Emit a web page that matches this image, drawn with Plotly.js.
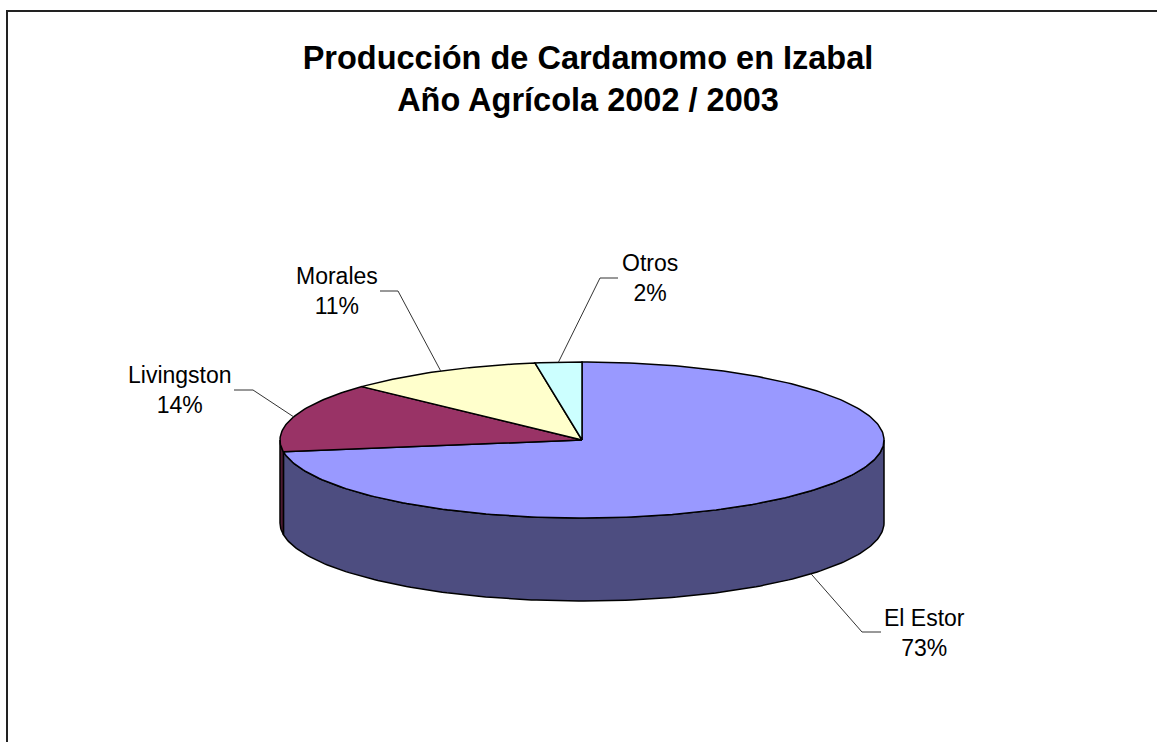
<!DOCTYPE html>
<html>
<head>
<meta charset="utf-8">
<script src="https://cdn.plot.ly/plotly-3.0.1.min.js"></script>
<style>html,body{margin:0;padding:0;background:#fff;overflow:hidden}#chart{width:1157px;height:742px}</style>
</head>
<body>
<div id="chart"></div>
<script>
// Data
const titleLines = ['Producción de Cardamomo en Izabal', 'Año Agrícola 2002 / 2003'];
const categories = ['El Estor', 'Livingston', 'Morales', 'Otros'];
const shares = [72.6, 14.4, 10.51, 2.49];

// Styles
const topColors = ['#9999FF', '#993366', '#FFFFCC', '#CCFFFF'];
const sideColors = ['#4D4D80', '#4D1A33', '#808066', '#668080'];

// Pie projection (pixel-like axis units)
const cx = 582, cy = 440, rx = 302, ry = 78, depth = 83;
const labelX = [924, 180, 337, 650];
const labelY = [633, 390, 291, 278];
const elbowX = [862, 253, 398, 600];
const stubX = [881, 234, 380, 618];
const leaderY = [632, 390, 291, 278];

const rad = a => a * Math.PI / 180;
const px = a => cx + rx * Math.sin(rad(a));
const py = (a, dz) => cy - ry * Math.cos(rad(a)) + (dz || 0);
function arc(a0, a1, dz) {
  const n = Math.max(2, Math.ceil(Math.abs(a1 - a0) / 1));
  const xs = [], ys = [];
  for (let i = 0; i <= n; i++) {
    const a = a0 + (a1 - a0) * i / n;
    xs.push(px(a)); ys.push(py(a, dz));
  }
  return [xs, ys];
}

const total = shares.reduce((s, v) => s + v, 0);
let run = 0;
const slices = shares.map(v => {
  const a0 = run / total * 360;
  run += v;
  return {a0, a1: run / total * 360};
});

const traces = [];
const edge = {color: '#000000', width: 1.5};

// Visible outer walls (front half of the disc, 90° to 270°)
slices.forEach((s, i) => {
  const lo = Math.max(s.a0, 90), hi = Math.min(s.a1, 270);
  if (hi <= lo) return;
  const [tx, ty] = arc(lo, hi, 0);
  const [bx, by] = arc(hi, lo, depth);
  traces.push({
    type: 'scatter', mode: 'lines', fill: 'toself', fillcolor: sideColors[i],
    x: tx.concat(bx, [tx[0]]), y: ty.concat(by, [ty[0]]),
    line: edge, hoverinfo: 'skip', showlegend: false
  });
});

// Top faces
slices.forEach((s, i) => {
  const [ax, ay] = arc(s.a0, s.a1, 0);
  traces.push({
    type: 'scatter', mode: 'lines', fill: 'toself', fillcolor: topColors[i],
    x: [cx].concat(ax, [cx]), y: [cy].concat(ay, [cy]),
    line: edge, name: categories[i], showlegend: false,
    hovertemplate: categories[i] + ': ' + shares[i] + '%<extra></extra>'
  });
});

// Leader lines start on the rim at each slice's mid angle
slices.forEach((s, i) => {
  const mid = (s.a0 + s.a1) / 2;
  const front = mid > 90 && mid < 270;
  traces.push({
    type: 'scatter', mode: 'lines',
    x: [px(mid), elbowX[i], stubX[i]],
    y: [py(mid, front ? depth : 0), leaderY[i], leaderY[i]],
    line: {color: '#333333', width: 1}, hoverinfo: 'skip', showlegend: false
  });
});

const annotations = categories.map((c, i) => ({
  xref: 'x', yref: 'y', x: labelX[i], y: labelY[i],
  text: c + '<br>' + Math.round(shares[i] / total * 100) + '%',
  showarrow: false, xanchor: 'center', yanchor: 'middle', align: 'center',
  font: {family: '"Liberation Sans", Arial, sans-serif', size: 23, color: '#000000'}
}));

const layout = {
  width: 1157, height: 742,
  margin: {l: 0, r: 0, t: 0, b: 0},
  paper_bgcolor: '#ffffff', plot_bgcolor: '#ffffff',
  showlegend: false,
  title: {
    text: titleLines.join('<br>'),
    font: {family: '"Liberation Sans", Arial, sans-serif', size: 32.5, color: '#000000', weight: 700},
    x: 588 / 1157, xref: 'paper', xanchor: 'center',
    y: 1 - 69 / 742, yref: 'paper', yanchor: 'middle'
  },
  xaxis: {range: [0, 1157], visible: false, fixedrange: true},
  yaxis: {range: [742, 0], visible: false, fixedrange: true},
  annotations,
  shapes: [
    {type: 'line', xref: 'x', yref: 'y', x0: 7, x1: 7, y0: 10, y1: 742, line: {color: '#222222', width: 2}},
    {type: 'line', xref: 'x', yref: 'y', x0: 6, x1: 1157, y0: 11, y1: 11, line: {color: '#222222', width: 2}}
  ]
};

Plotly.newPlot('chart', traces, layout, {displayModeBar: false, staticPlot: true});
</script>
</body>
</html>
